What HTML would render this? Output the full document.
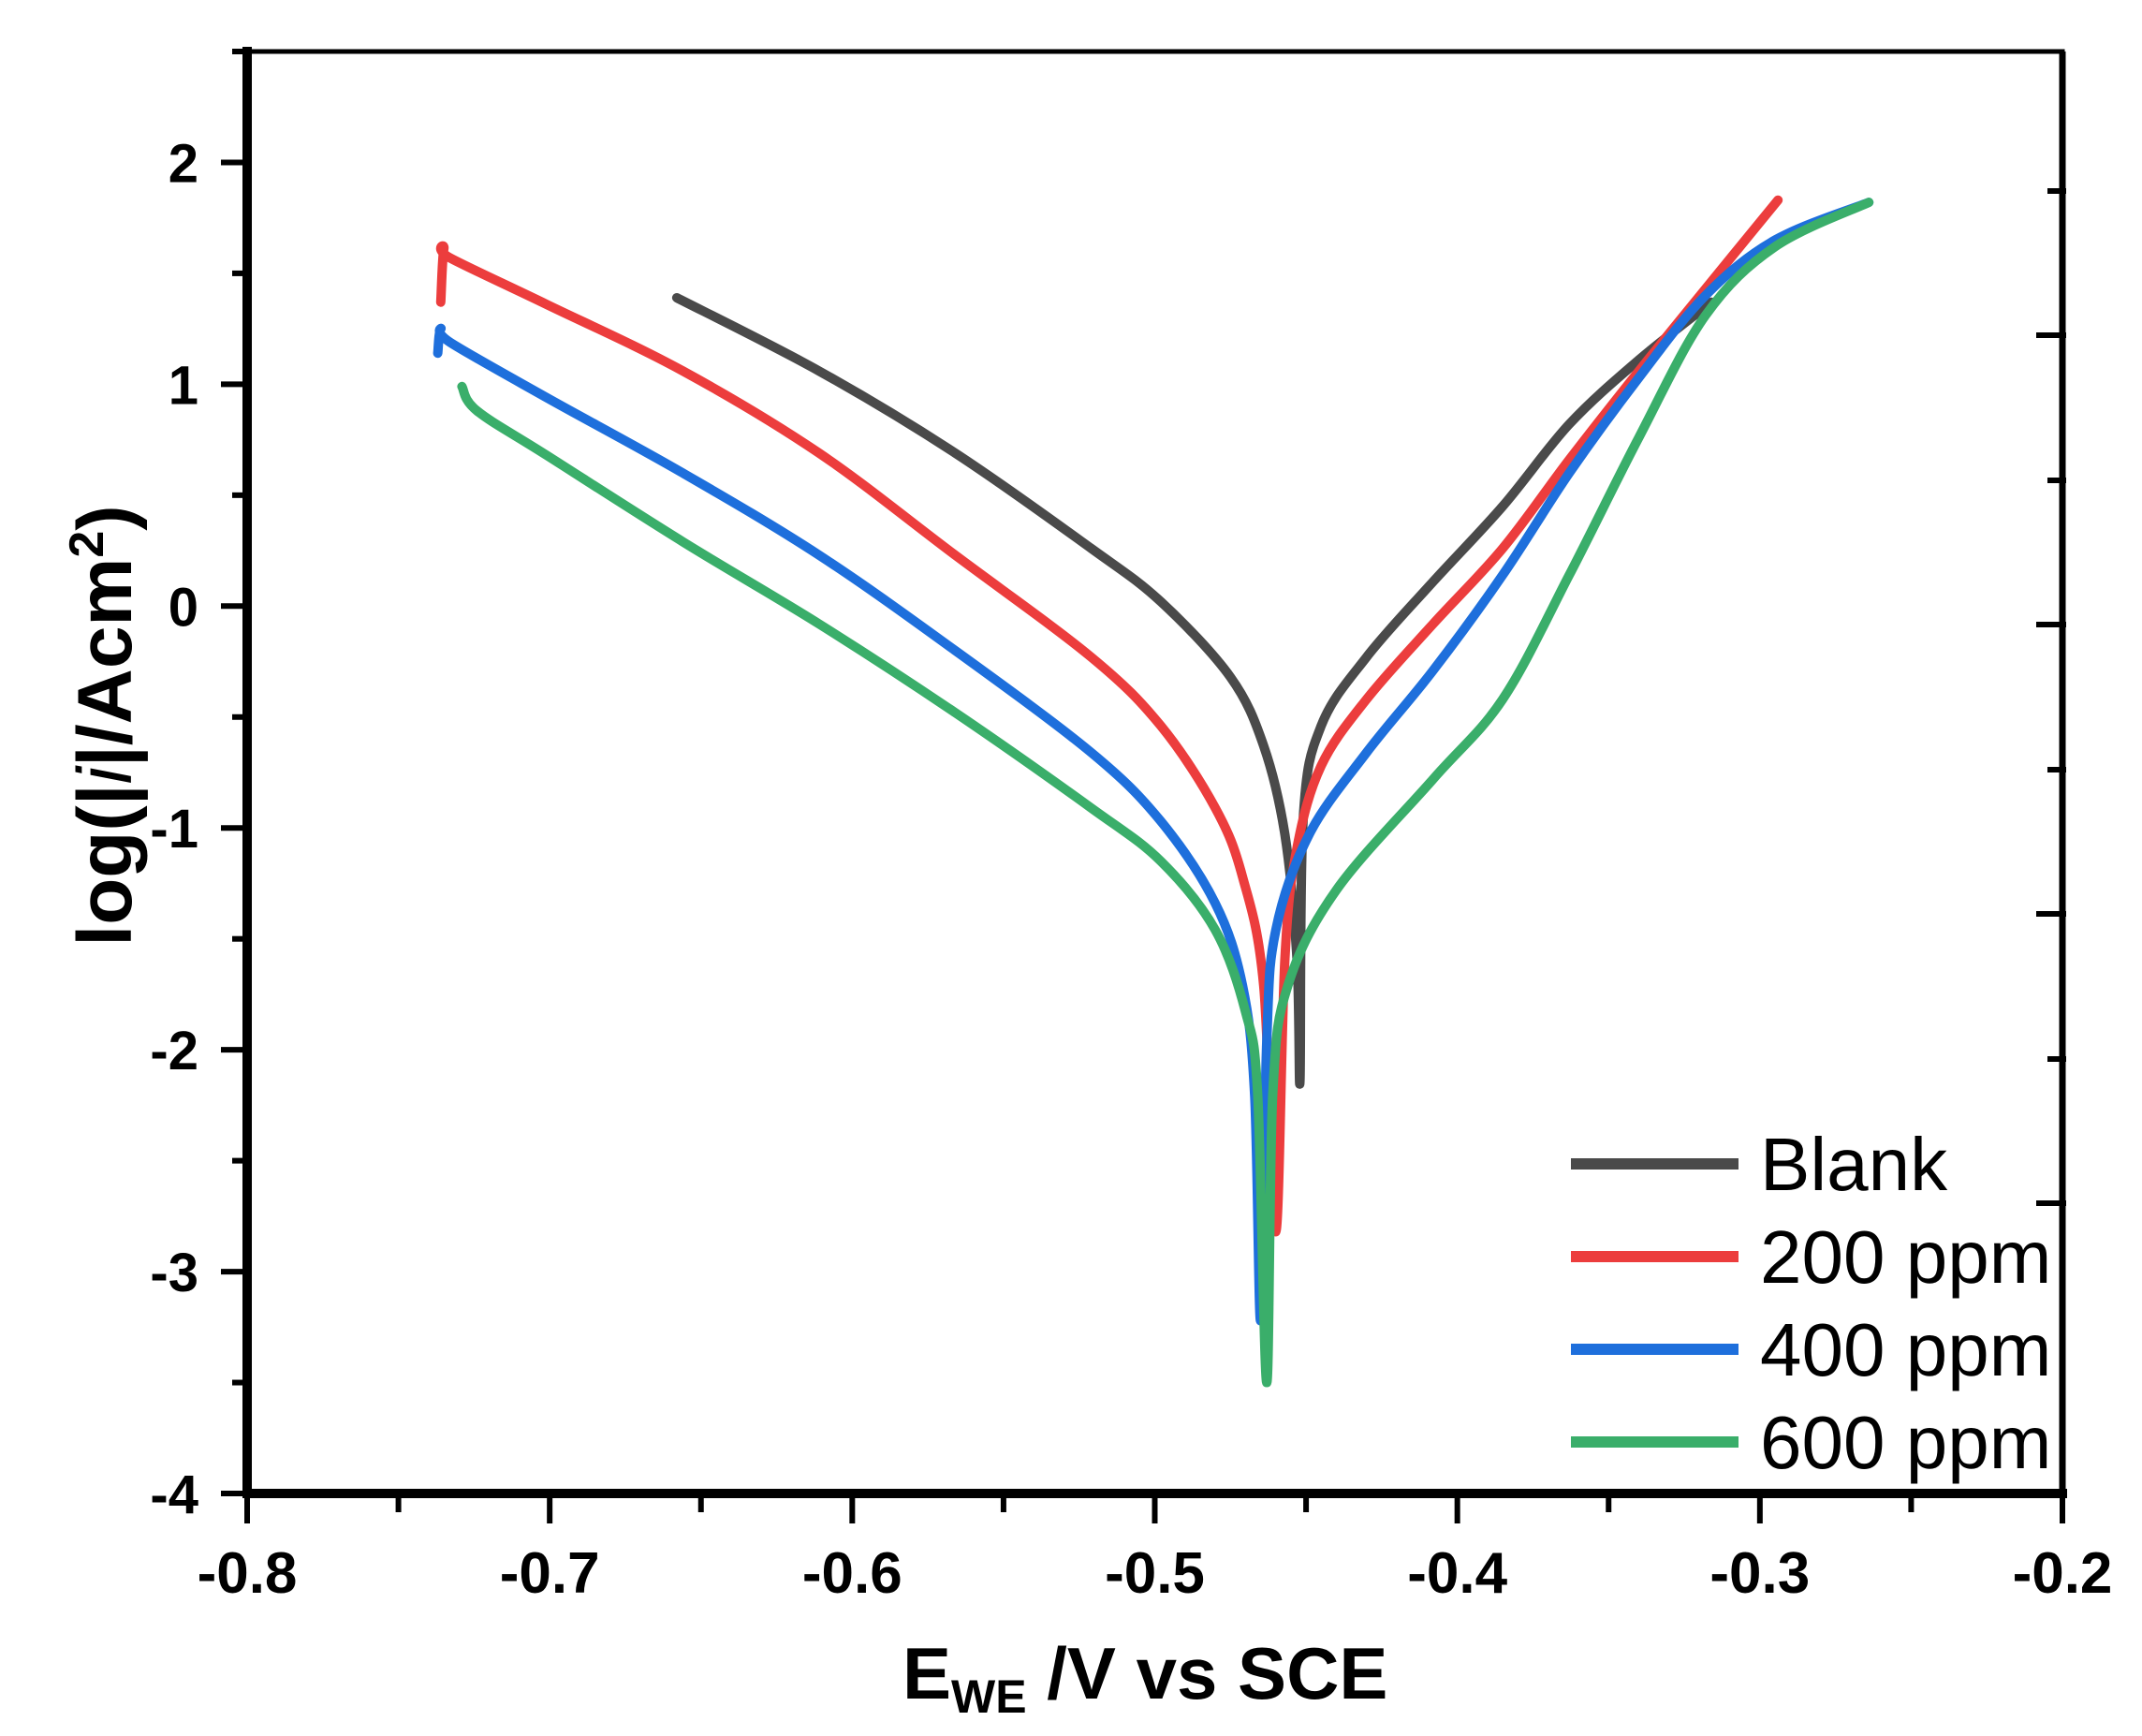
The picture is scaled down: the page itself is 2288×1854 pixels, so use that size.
<!DOCTYPE html>
<html><head><meta charset="utf-8"><style>
html,body{margin:0;padding:0;background:#fff;}
svg{display:block;}
text{font-family:"Liberation Sans",Arial,sans-serif;}
</style></head><body>
<svg id="chart" width="2288" height="1854" viewBox="0 0 2288 1854" xmlns="http://www.w3.org/2000/svg">
<g id="plot"></g>
</svg>
<script>
const xTicks = [-0.8,-0.7,-0.6,-0.5,-0.4,-0.3,-0.2];
const xTickLabels = ["-0.8","-0.7","-0.6","-0.5","-0.4","-0.3","-0.2"];
const yTicks = [-4,-3,-2,-1,0,1,2];
const yTickLabels = ["-4","-3","-2","-1","0","1","2"];
const seriesNames = ["Blank","200 ppm","400 ppm","600 ppm"];
const seriesColors = ["#4a4a4a","#ec3d3d","#1e6fdc","#3aae6a"];
const blankE = [-0.658,-0.611,-0.566,-0.521,-0.498,-0.475,-0.464,-0.457,-0.453,-0.452,-0.451,-0.445,-0.430,-0.408,-0.385,-0.363,-0.340,-0.316];
const blankI = [1.39,1.06,0.69,0.26,0.02,-0.32,-0.63,-1.03,-1.59,-2.14,-0.97,-0.54,-0.23,0.11,0.45,0.82,1.11,1.37];
const r200E = [-0.736,-0.735,-0.733,-0.701,-0.656,-0.611,-0.566,-0.521,-0.498,-0.480,-0.471,-0.464,-0.460,-0.457,-0.453,-0.445,-0.430,-0.408,-0.385,-0.363,-0.340,-0.318,-0.294];
const r200I = [1.37,1.61,1.57,1.36,1.06,0.69,0.23,-0.23,-0.54,-0.91,-1.22,-1.71,-2.82,-1.59,-1.09,-0.72,-0.42,-0.08,0.26,0.66,1.06,1.43,1.83];
const r400E = [-0.737,-0.736,-0.733,-0.701,-0.656,-0.611,-0.566,-0.521,-0.498,-0.480,-0.471,-0.467,-0.465,-0.463,-0.460,-0.449,-0.430,-0.408,-0.385,-0.363,-0.340,-0.318,-0.295,-0.264];
const r400I = [1.14,1.25,1.19,0.94,0.60,0.23,-0.20,-0.66,-0.97,-1.34,-1.71,-2.20,-3.22,-1.96,-1.46,-1.03,-0.66,-0.29,0.14,0.60,1.03,1.40,1.65,1.82];
const r600E = [-0.729,-0.724,-0.701,-0.656,-0.611,-0.566,-0.521,-0.498,-0.480,-0.470,-0.466,-0.463,-0.461,-0.456,-0.440,-0.408,-0.385,-0.363,-0.340,-0.318,-0.295,-0.264];
const r600I = [0.99,0.88,0.68,0.29,-0.08,-0.48,-0.91,-1.15,-1.46,-1.83,-2.20,-3.50,-2.20,-1.71,-1.28,-0.78,-0.42,0.14,0.76,1.31,1.62,1.82];

const NS="http://www.w3.org/2000/svg";
const L=264,R=2203,T=55,B=1595;
const xMin=-0.8,xMax=-0.2,yMin=-4,yMax=2.5;
function sx(v){return L+(v-xMin)/(xMax-xMin)*(R-L);}
function sy(v){return B-(v-yMin)/(yMax-yMin)*(B-T);}
const g=document.getElementById('plot');
function mk(tag,attrs,parent){const e=document.createElementNS(NS,tag);for(const k in attrs)e.setAttribute(k,attrs[k]);(parent||g).appendChild(e);return e;}
function smoothPath(pts){
  let d="M"+pts[0][0].toFixed(1)+","+pts[0][1].toFixed(1);
  for(let i=0;i<pts.length-1;i++){
    const p0=pts[Math.max(0,i-1)],p1=pts[i],p2=pts[i+1],p3=pts[Math.min(pts.length-1,i+2)];
    const c1=[p1[0]+(p2[0]-p0[0])/6,p1[1]+(p2[1]-p0[1])/6];
    const c2=[p2[0]-(p3[0]-p1[0])/6,p2[1]-(p3[1]-p1[1])/6];
    d+="C"+c1[0].toFixed(1)+","+c1[1].toFixed(1)+" "+c2[0].toFixed(1)+","+c2[1].toFixed(1)+" "+p2[0].toFixed(1)+","+p2[1].toFixed(1);
  }
  return d;
}

// series
const allE=[blankE,r200E,r400E,r600E], allI=[blankI,r200I,r400I,r600I];
for(let s=0;s<4;s++){
  const pts=[];
  for(let i=0;i<allE[s].length;i++){pts.push([sx(allE[s][i]),sy(allI[s][i])]);}
  const p=mk('path',{d:smoothPath(pts),fill:"none",stroke:seriesColors[s],"stroke-width":10,"stroke-linejoin":"round","stroke-linecap":"round"});
  
  
}
// frame
const fr=mk('rect',{x:L,y:T,width:R-L,height:B-T,fill:"none",stroke:"#000","stroke-width":5});


const la=mk('line',{x1:L,y1:T-5,x2:L,y2:B+5,stroke:"#000","stroke-width":10});


const ba=mk('line',{x1:L-5,y1:B,x2:R+5,y2:B,stroke:"#000","stroke-width":10});


const ra=mk('line',{x1:R,y1:T,x2:R,y2:B,stroke:"#000","stroke-width":7});


// x ticks
for(let i=0;i<xTicks.length;i++){
  const x=sx(xTicks[i]);
  const t=mk('line',{x1:x,y1:B,x2:x,y2:B+32,stroke:"#000","stroke-width":6});
  
  
  if(i<xTicks.length-1){const xm=sx(xTicks[i]+0.05);
    const m=mk('line',{x1:xm,y1:B,x2:xm,y2:B+20,stroke:"#000","stroke-width":6});
    
    }
  const lb=mk('text',{x:x,y:1701,"text-anchor":"middle","font-size":62,"font-weight":"bold"});
  lb.textContent=xTickLabels[i];
  
  
}
// y ticks
for(let i=0;i<yTicks.length;i++){
  const y=sy(yTicks[i]);
  const t=mk('line',{x1:L-28,y1:y,x2:L,y2:y,stroke:"#000","stroke-width":6});
  
  
  const ym=sy(yTicks[i]+0.5);
  const m=mk('line',{x1:L-16,y1:ym,x2:L,y2:ym,stroke:"#000","stroke-width":6});
  
  
  const lb=mk('text',{x:212,y:y+21,"text-anchor":"end","font-size":58,"font-weight":"bold"});
  lb.textContent=yTickLabels[i];
  
  
}
// right-axis ticks
for(let k=0;k<4;k++){
  const y=358+k*309;
  const t=mk('line',{x1:R-28,y1:y,x2:R+4,y2:y,stroke:"#000","stroke-width":6});
  
  
  const ym=y-154;
  const m=mk('line',{x1:R-16,y1:ym,x2:R+4,y2:ym,stroke:"#000","stroke-width":6});
  
  
}
// legend
for(let s=0;s<4;s++){
  const y=1243+s*99;
  const ln=mk('line',{x1:1678,y1:y,x2:1857,y2:y,stroke:seriesColors[s],"stroke-width":12});
  
  
  const tx=mk('text',{x:1880,y:y+28,"font-size":80});
  tx.textContent=seriesNames[s];
  
  
}
</script>
<svg style="position:absolute;left:0;top:0" width="2288" height="1854">
<text x="964" y="1814" font-family="Liberation Sans, sans-serif" font-size="78" font-weight="bold">E<tspan font-size="50" dy="15">WE</tspan><tspan dy="-15"> /V vs SCE</tspan></text>
<text transform="translate(140,775) rotate(-90)" text-anchor="middle" font-size="82" font-weight="bold" font-family="Liberation Serif, serif"><tspan font-family="Liberation Sans, sans-serif">log(</tspan>|<tspan font-style="italic" font-weight="normal">i</tspan>|/Acm<tspan font-size="52" dy="-30">2</tspan><tspan dy="30" font-family="Liberation Sans, sans-serif">)</tspan></text>
</svg>
</body></html>
